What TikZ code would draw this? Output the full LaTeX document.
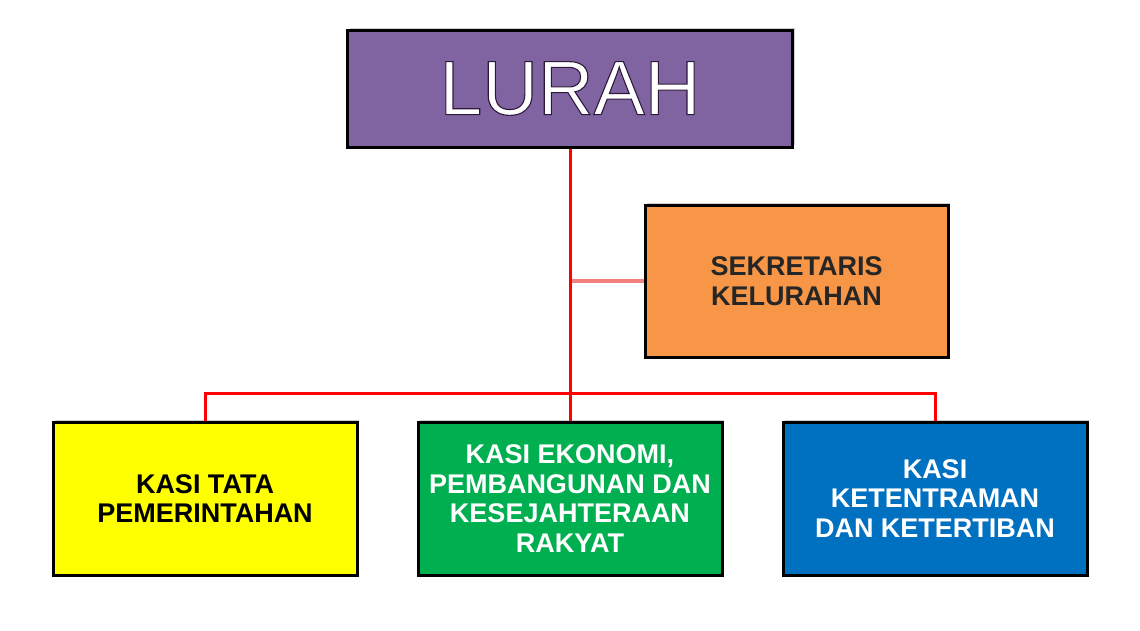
\documentclass[tikz,border=0pt]{standalone}
\usepackage{fontspec}
\setmainfont{Liberation Sans}
\usetikzlibrary{shadows}
\definecolor{lurahpurple}{HTML}{8064A2}
\definecolor{sekorange}{HTML}{F79646}
\definecolor{kyellow}{HTML}{FFFF00}
\definecolor{kgreen}{HTML}{00B050}
\definecolor{kblue}{HTML}{0070C0}
\definecolor{linered}{HTML}{FF0000}
\definecolor{linepink}{HTML}{F58080}
\tikzset{
  orgbox/.style={draw=black, line width=3pt, rectangle, align=center,
    font=\bfseries\fontsize{27}{29.5}\selectfont,
    general shadow={fill=black!18, shadow xshift=2pt, shadow yshift=2pt}},
  conn/.style={draw=linered, line width=3pt},
  connpink/.style={draw=linepink, line width=3.5pt}
}
\begin{document}
\begin{tikzpicture}[x=1pt,y=-1pt]
\useasboundingbox (0,0) rectangle (1140,630);
\fill[white] (0,0) rectangle (1140,630);
\coordinate (bar) at (570,393);
\node[orgbox, fill=lurahpurple, minimum width=445pt, minimum height=117pt,
      font=\fontsize{77}{80}\selectfont, text=white] (lurah) at (570,88.5)
  {\special{pdf:literal q 2 Tr 1.1 w 0.18 0.10 0.23 RG}LURAH\special{pdf:literal Q}};
\node[orgbox, fill=sekorange, minimum width=303pt, minimum height=152pt,
      text=black!85] (sek) at (796.5,281) {SEKRETARIS\\KELURAHAN};
\node[orgbox, fill=kyellow, minimum width=304pt, minimum height=153pt,
      text=black] (tata) at (205,498.5) {KASI TATA\\PEMERINTAHAN};
\node[orgbox, fill=kgreen, minimum width=304pt, minimum height=153pt,
      text=white] (ekon) at (570,498.5) {KASI EKONOMI,\\PEMBANGUNAN DAN\\KESEJAHTERAAN\\RAKYAT};
\node[orgbox, fill=kblue, minimum width=304pt, minimum height=153pt,
      text=white] (tram) at (935,498.5) {KASI\\KETENTRAMAN\\DAN KETERTIBAN};
\draw[connpink] (sek.west -| lurah.south) -- (sek.west);
\draw[conn] (lurah.south) -- (ekon.north);
\draw[conn] (tata.north) |- (bar) -| (tram.north);
\end{tikzpicture}
\end{document}
